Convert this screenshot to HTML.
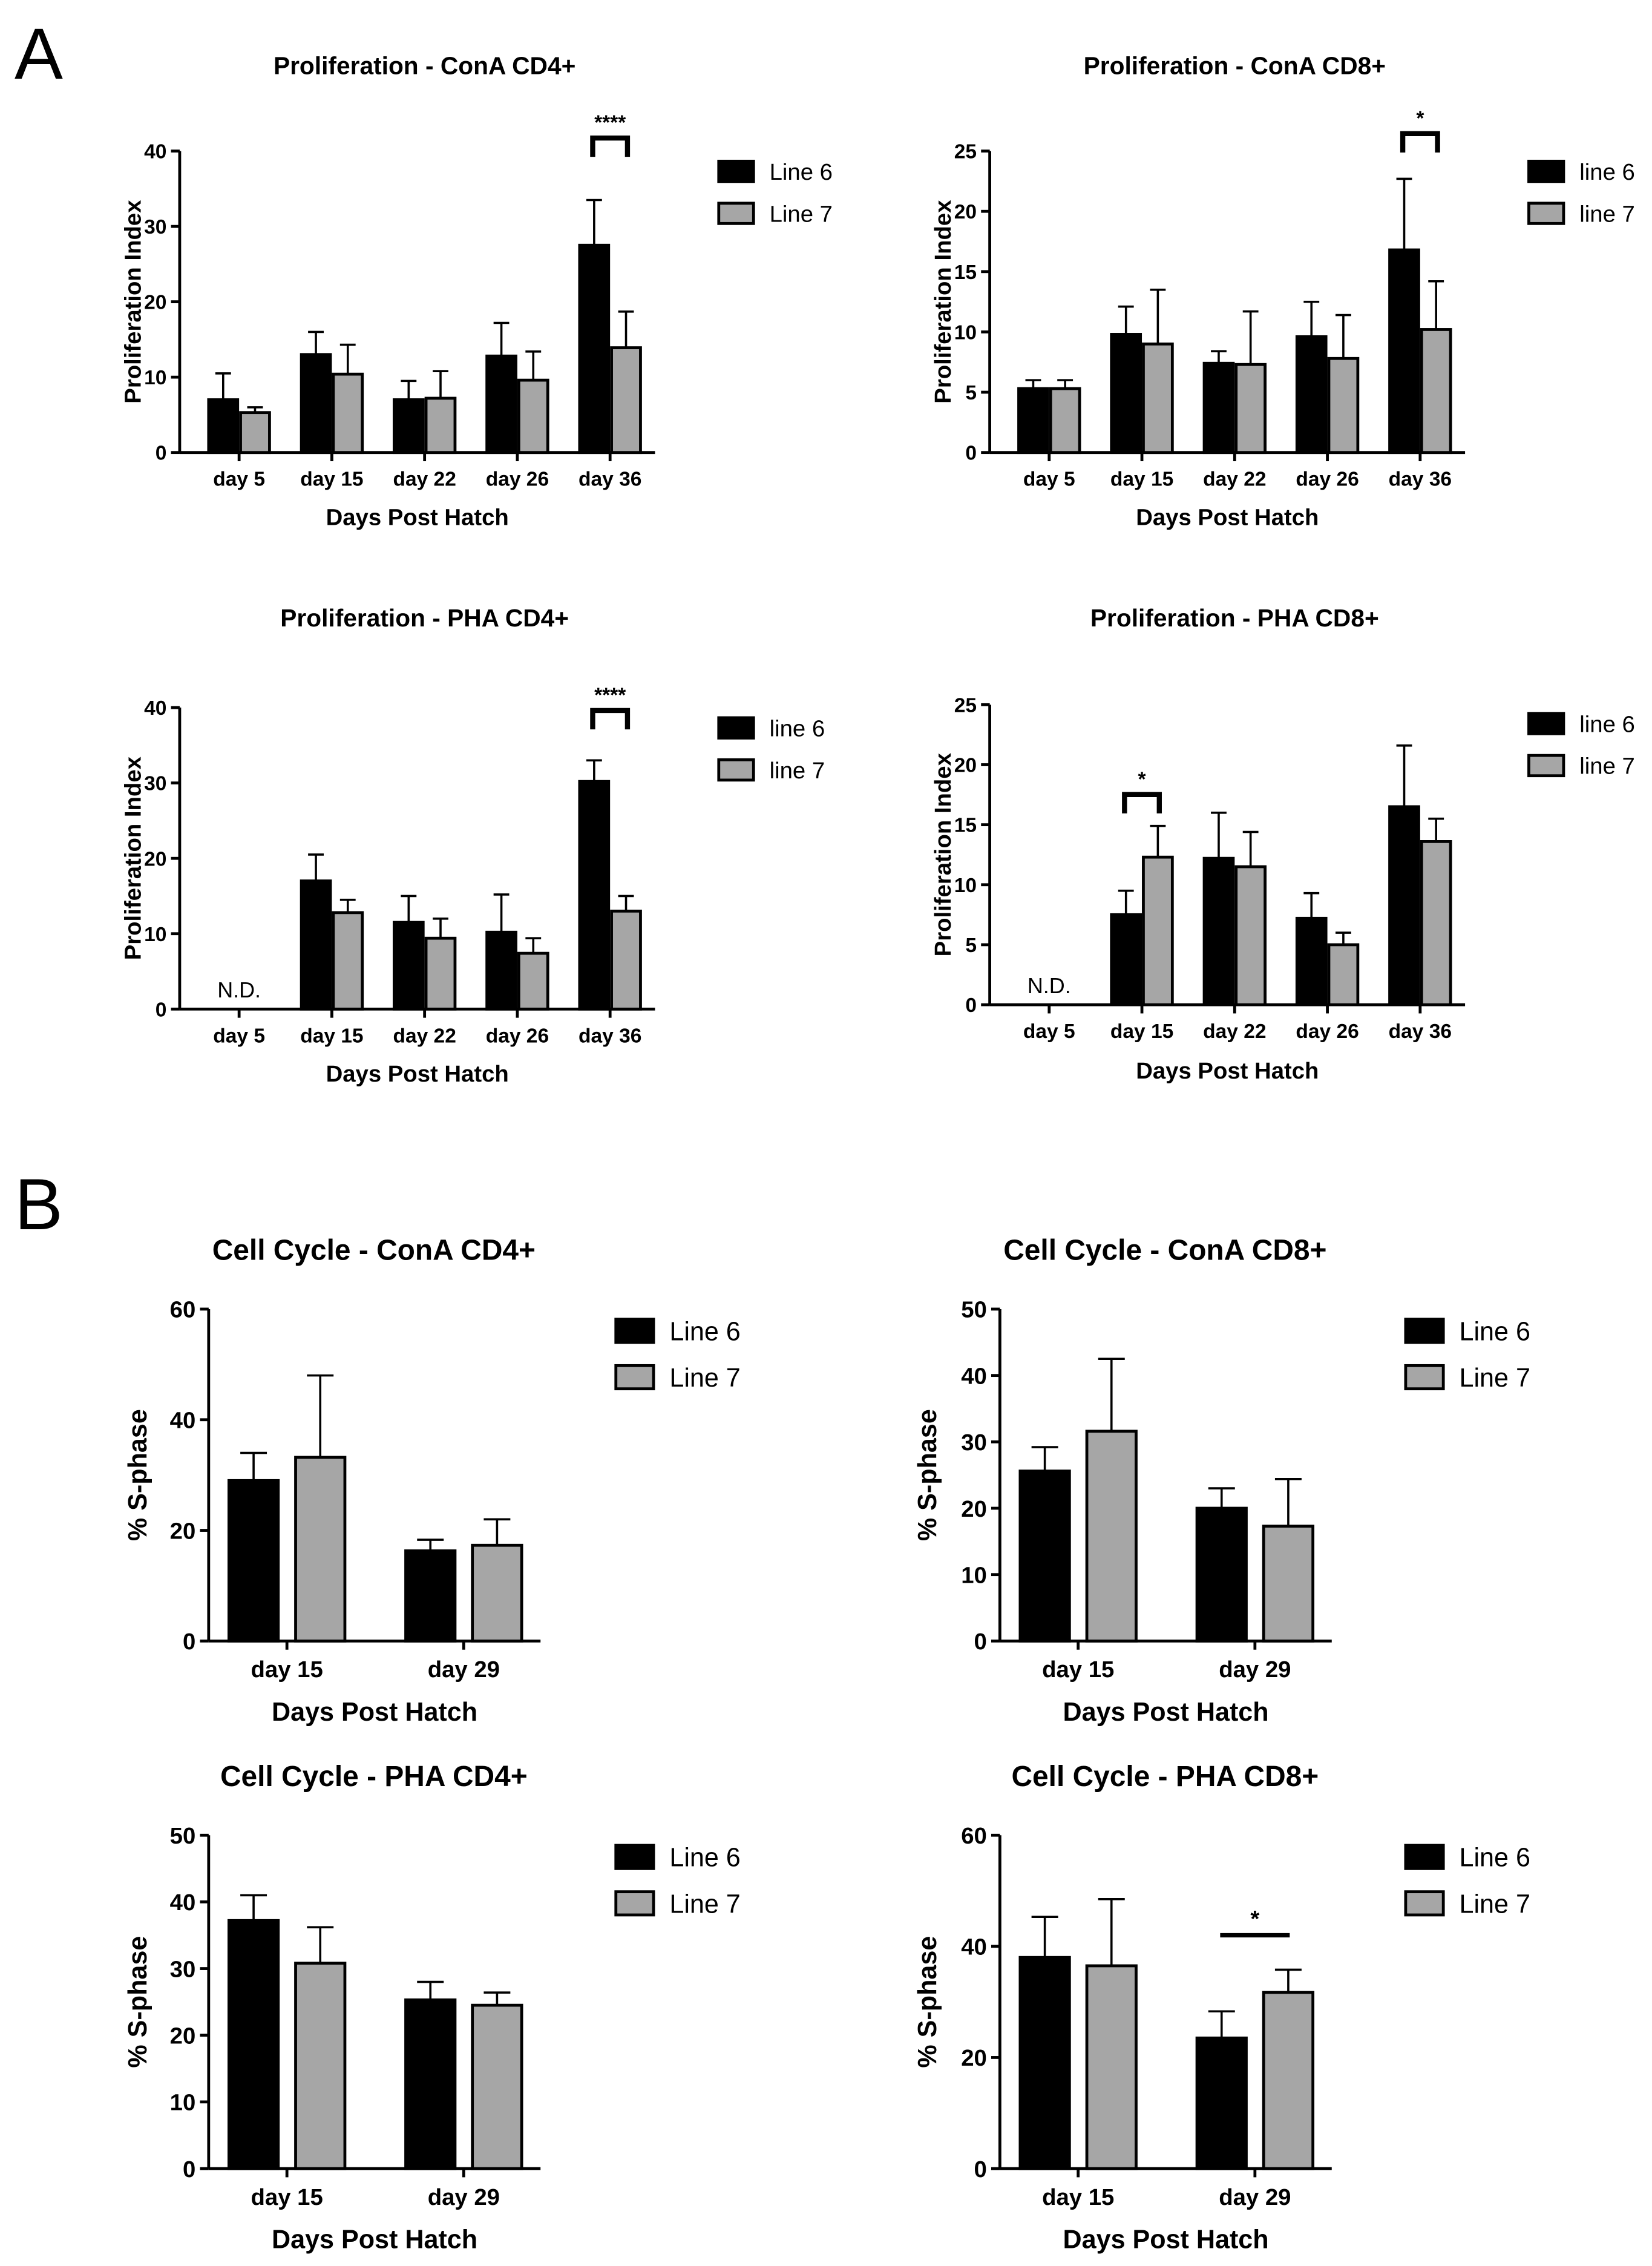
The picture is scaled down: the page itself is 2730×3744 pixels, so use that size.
<!DOCTYPE html>
<html><head><meta charset="utf-8">
<style>
html,body{margin:0;padding:0;background:#fff;}
svg{display:block;font-family:"Liberation Sans",Arial,sans-serif;}
</style></head>
<body>
<svg id="fig" width="2730" height="3744" viewBox="0 0 1140 1563" xmlns="http://www.w3.org/2000/svg">
<text x="10" y="54" font-size="50">A</text>
<text x="10" y="848" font-size="50">B</text>
</svg>
<script>
// ---- data ----
const catsA = ["day 5","day 15","day 22","day 26","day 36"];
const catsB = ["day 15","day 29"];

const a1L6 = [7, 13, 7, 12.8, 27.5];
const a1L6err = [10.5, 16, 9.5, 17.2, 33.5];
const a1L7 = [5.3, 10.4, 7.2, 9.6, 13.9];
const a1L7err = [6, 14.3, 10.8, 13.4, 18.7];

const a2L6 = [5.3, 9.8, 7.4, 9.6, 16.8];
const a2L6err = [6, 12.1, 8.4, 12.5, 22.7];
const a2L7 = [5.3, 9, 7.3, 7.8, 10.2];
const a2L7err = [6, 13.5, 11.7, 11.4, 14.2];

const a3L6 = [null, 17, 11.5, 10.2, 30.2];
const a3L6err = [null, 20.5, 15, 15.2, 33];
const a3L7 = [null, 12.8, 9.4, 7.4, 13];
const a3L7err = [null, 14.5, 12, 9.4, 15];

const a4L6 = [null, 7.5, 12.2, 7.2, 16.5];
const a4L6err = [null, 9.5, 16, 9.3, 21.6];
const a4L7 = [null, 12.3, 11.5, 5, 13.6];
const a4L7err = [null, 14.9, 14.4, 6, 15.5];

const b1L6 = [29, 16.3]; const b1L6err = [34, 18.3];
const b1L7 = [33.2, 17.3]; const b1L7err = [48, 22];
const b2L6 = [25.6, 20]; const b2L6err = [29.2, 23];
const b2L7 = [31.6, 17.3]; const b2L7err = [42.5, 24.4];
const b3L6 = [37.2, 25.3]; const b3L6err = [41, 28];
const b3L7 = [30.8, 24.5]; const b3L7err = [36.2, 26.4];
const b4L6 = [38, 23.5]; const b4L6err = [45.3, 28.3];
const b4L7 = [36.5, 31.7]; const b4L7err = [48.5, 35.8];

const ticksA40 = [0,10,20,30,40];
const ticksA25 = [0,5,10,15,20,25];
const ticksB60 = [0,20,40,60];
const ticksB50 = [0,10,20,30,40,50];

const NS="http://www.w3.org/2000/svg";
const svg=document.getElementById('fig');
function mk(tag,attrs,parent){const e=document.createElementNS(NS,tag);for(const k in attrs)e.setAttribute(k,attrs[k]);(parent||svg).appendChild(e);return e;}
function txt(x,y,s,size,anchor,parent,extra){const t=mk('text',Object.assign({x:x,y:y,'font-size':size,'font-weight':'bold','text-anchor':anchor||'middle'},extra||{}),parent);t.textContent=s;return t;}

function panel(o){
  const g=mk('g',{});
  
  
  const ymax=o.ticks[o.ticks.length-1];
  const yS=v=>o.y0-(v/ymax)*(o.y0-o.yTop);
  const t=txt(o.titleX,o.titleY,o.title,o.tSize,'middle',g);
  
  
  const ya=mk('line',{x1:o.ax,y1:o.yTop,x2:o.ax,y2:o.y0,stroke:'#000','stroke-width':2},g);
  
  
  const xa=mk('line',{x1:o.ax,y1:o.y0,x2:o.axEnd,y2:o.y0,stroke:'#000','stroke-width':2},g);
  
  
  o.ticks.forEach(v=>{
    const y=yS(v);
    mk('line',{x1:o.ax-6,y1:y,x2:o.ax,y2:y,stroke:'#000','stroke-width':2},g);
    const tl=txt(o.ax-9,y+o.kSize*0.36,String(v),o.kSize,'end',g);
    
    
  });
  const yt=txt(0,0,o.yTitle,o.lSize,'middle',g,{transform:`translate(${o.yTitleX},${(o.yTop+o.y0)/2}) rotate(-90)`});
  
  
  o.cats.forEach((c,i)=>{
    const cx=o.c0+i*o.step;
    mk('line',{x1:cx,y1:o.y0,x2:cx,y2:o.y0+6,stroke:'#000','stroke-width':2},g);
    const xl=txt(cx,o.xLabY,c,o.kSize,'middle',g);
    
    
    [[o.l6,o.l6e,'#000',-1],[o.l7,o.l7e,'#a6a6a6',1]].forEach(([vals,errs,fill,side])=>{
      const v=vals[i]; if(v==null) return;
      const x=side<0?cx-o.gap-o.bw:cx+o.gap;
      const ex=x+o.bw/2;
      const e=errs[i];
      const cw=o.bw*0.27;
      mk('line',{x1:ex,y1:yS(e),x2:ex,y2:yS(v),stroke:'#000','stroke-width':1.5},g);
      mk('line',{x1:ex-cw,y1:yS(e),x2:ex+cw,y2:yS(e),stroke:'#000','stroke-width':1.5},g);
      const b=mk('rect',{x:x,y:yS(v),width:o.bw,height:o.y0-yS(v),fill:fill,stroke:'#000','stroke-width':2},g);
      
      
    });
    if(o.l6[i]==null){
      const nd=mk('text',{x:cx,y:o.y0-8,'font-size':o.kSize+1,'text-anchor':'middle'},g);
      nd.textContent='N.D.';
      
      
    }
  });
  const xt=txt((o.ax+o.axEnd)/2,o.xTitY,'Days Post Hatch',o.lSize,'middle',g);
  
  
  [[o.leg6,'#000',0],[o.leg7,'#a6a6a6',1]].forEach(([lab,fill,k])=>{
    const ly=o.legY+k*o.legDy;
    const r=mk('rect',{x:o.legX,y:ly-o.legH/2,width:o.legW,height:o.legH,fill:fill,stroke:'#000','stroke-width':2},g);
    
    
    const lt=mk('text',{x:o.legX+o.legW+11,y:ly+o.legFs*0.36,'font-size':o.legFs},g);
    lt.textContent=lab;
    
    
  });
  if(o.sig){
    const s=o.sig; const cx=o.c0+s.i*o.step;
    if(s.bracket){
      mk('path',{d:`M${cx-12} ${s.y+13} V${s.y} H${cx+12} V${s.y+13}`,fill:'none',stroke:'#000','stroke-width':3.5},g);
    } else {
      mk('line',{x1:cx-24,y1:s.y,x2:cx+24,y2:s.y,stroke:'#000','stroke-width':3},g);
    }
    const st=txt(cx,s.y-6,s.label,o.kSize,'middle',g);
    
    
  }
}

const baseA={cats:catsA,step:64,bw:20,gap:1,tSize:17,kSize:14,lSize:16,legW:24,legH:14,legDy:29,legFs:16};
panel(Object.assign({},baseA,{name:'chart-prolif-cona-cd4',title:'Proliferation - ConA CD4+',titleX:293,titleY:51,ax:124,axEnd:452,yTop:104,y0:312,ticks:ticksA40,yTitle:'Proliferation Index',yTitleX:97,c0:165,xLabY:335,xTitY:362,l6:a1L6,l6e:a1L6err,l7:a1L7,l7e:a1L7err,leg6:'Line 6',leg7:'Line 7',legX:496,legY:118,sig:{i:4,y:95,label:'****',bracket:true}}));
panel(Object.assign({},baseA,{name:'chart-prolif-cona-cd8',title:'Proliferation - ConA CD8+',titleX:852,titleY:51,ax:683,axEnd:1011,yTop:104,y0:312,ticks:ticksA25,yTitle:'Proliferation Index',yTitleX:656,c0:724,xLabY:335,xTitY:362,l6:a2L6,l6e:a2L6err,l7:a2L7,l7e:a2L7err,leg6:'line 6',leg7:'line 7',legX:1055,legY:118,sig:{i:4,y:92,label:'*',bracket:true}}));
panel(Object.assign({},baseA,{name:'chart-prolif-pha-cd4',title:'Proliferation - PHA CD4+',titleX:293,titleY:432,ax:124,axEnd:452,yTop:488,y0:696,ticks:ticksA40,yTitle:'Proliferation Index',yTitleX:97,c0:165,xLabY:719,xTitY:746,l6:a3L6,l6e:a3L6err,l7:a3L7,l7e:a3L7err,leg6:'line 6',leg7:'line 7',legX:496,legY:502,sig:{i:4,y:490,label:'****',bracket:true}}));
panel(Object.assign({},baseA,{name:'chart-prolif-pha-cd8',title:'Proliferation - PHA CD8+',titleX:852,titleY:432,ax:683,axEnd:1011,yTop:486,y0:693,ticks:ticksA25,yTitle:'Proliferation Index',yTitleX:656,c0:724,xLabY:716,xTitY:744,l6:a4L6,l6e:a4L6err,l7:a4L7,l7e:a4L7err,leg6:'line 6',leg7:'line 7',legX:1055,legY:499,sig:{i:1,y:548,label:'*',bracket:true}}));

const baseB={cats:catsB,step:122,bw:34,gap:6,tSize:20,kSize:16,lSize:18,legW:26,legH:16,legDy:32,legFs:18,yTitle:'% S-phase'};
panel(Object.assign({},baseB,{name:'chart-cycle-cona-cd4',title:'Cell Cycle - ConA CD4+',titleX:258,titleY:869,ax:144,axEnd:373,yTop:903,y0:1132,ticks:ticksB60,yTitleX:101,c0:198,xLabY:1157,xTitY:1187,l6:b1L6,l6e:b1L6err,l7:b1L7,l7e:b1L7err,leg6:'Line 6',leg7:'Line 7',legX:425,legY:918}));
panel(Object.assign({},baseB,{name:'chart-cycle-cona-cd8',title:'Cell Cycle - ConA CD8+',titleX:804,titleY:869,ax:690,axEnd:919,yTop:903,y0:1132,ticks:ticksB50,yTitleX:646,c0:744,xLabY:1157,xTitY:1187,l6:b2L6,l6e:b2L6err,l7:b2L7,l7e:b2L7err,leg6:'Line 6',leg7:'Line 7',legX:970,legY:918}));
panel(Object.assign({},baseB,{name:'chart-cycle-pha-cd4',title:'Cell Cycle - PHA CD4+',titleX:258,titleY:1232,ax:144,axEnd:373,yTop:1266,y0:1496,ticks:ticksB50,yTitleX:101,c0:198,xLabY:1521,xTitY:1551,l6:b3L6,l6e:b3L6err,l7:b3L7,l7e:b3L7err,leg6:'Line 6',leg7:'Line 7',legX:425,legY:1281}));
panel(Object.assign({},baseB,{name:'chart-cycle-pha-cd8',title:'Cell Cycle - PHA CD8+',titleX:804,titleY:1232,ax:690,axEnd:919,yTop:1266,y0:1496,ticks:ticksB60,yTitleX:646,c0:744,xLabY:1521,xTitY:1551,l6:b4L6,l6e:b4L6err,l7:b4L7,l7e:b4L7err,leg6:'Line 6',leg7:'Line 7',legX:970,legY:1281,sig:{i:1,y:1335,label:'*',bracket:false}}));
</script>
</body></html>
